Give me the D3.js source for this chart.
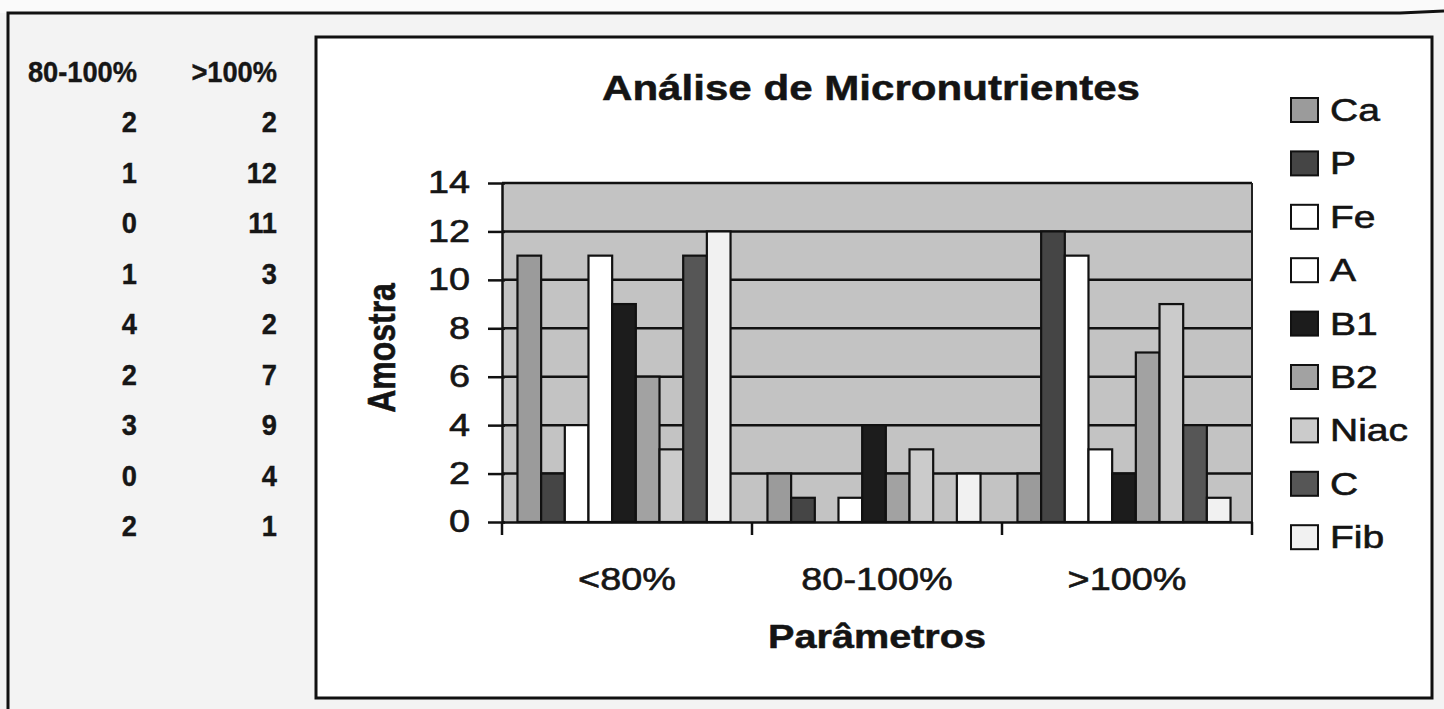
<!DOCTYPE html>
<html>
<head>
<meta charset="utf-8">
<script src="https://cdn.jsdelivr.net/npm/d3@7"></script>
<style>
  body { margin: 0; background: #f3f3f3; }
  svg { display: block; font-family: Arial, "Liberation Sans", sans-serif; }
</style>
</head>
<body>
<svg id="chart" width="1444" height="709"></svg>
<script>
(function(){
    'use strict';

    // valores
    var categories = ["<80%", "80-100%", ">100%"];
    var series = ["Ca", "P", "Fe", "A", "B1", "B2", "Niac", "C", "Fib"];
    var below80 = [11, 2, 4, 11, 9, 6, 3, 11, 12];
    var mid80to100 = [2, 1, 0, 1, 4, 2, 3, 0, 2];
    var above100 = [2, 12, 11, 3, 2, 7, 9, 4, 1];
    var yTicks = [0, 2, 4, 6, 8, 10, 12, 14];
    var colors = ["#9b9b9b", "#454545", "#ffffff", "#ffffff", "#1c1c1c", "#a2a2a2", "#cbcbcb", "#565656", "#f1f1f1"];

    var groups = [below80, mid80to100, above100];

    var svg = d3.select("#chart");

    // stretch text horizontally (photo is a bit wide)
    function stretch(sel, sx) {
        sel.each(function() {
            var t = d3.select(this);
            var x = +t.attr("x") || 0, y = +t.attr("y") || 0;
            t.attr("x", 0).attr("y", 0)
                .attr("transform", "translate(" + x + "," + y + ") scale(" + sx + ",1)");
        });
    }

    // outer page frame
    svg.append("rect").attr("x", 0).attr("y", 0).attr("width", 1444).attr("height", 13).style("fill", "#fafafa");
    svg.append("path")
        .attr("d", "M8,709 L8,13 L1400,13 L1444,11")
        .style("fill", "none").style("stroke", "#111").style("stroke-width", 3);

    // left table
    var table = svg.append("g").style("font-weight", "bold").style("font-size", "29px").style("fill", "#161616")
        .style("stroke", "#161616").style("stroke-width", 0.4);
    var heads = table.selectAll(".head").data([categories[1], categories[2]]).enter().append("text")
        .attr("class", "head")
        .attr("x", function(d, i) { return i === 0 ? 137 : 277; })
        .attr("y", 82)
        .style("text-anchor", "end")
        .text(function(d) { return d; });
    stretch(heads, 0.94);
    var col1 = table.selectAll(".c1").data(mid80to100).enter().append("text")
        .attr("class", "c1")
        .attr("x", 137)
        .attr("y", function(d, i) { return 132 + i * 50.5; })
        .style("text-anchor", "end")
        .text(function(d) { return d; });
    stretch(col1, 0.94);
    var col2 = table.selectAll(".c2").data(above100).enter().append("text")
        .attr("class", "c2")
        .attr("x", 277)
        .attr("y", function(d, i) { return 132 + i * 50.5; })
        .style("text-anchor", "end")
        .text(function(d) { return d; });
    stretch(col2, 0.94);

    // chart box
    svg.append("rect")
        .attr("x", 316).attr("y", 37).attr("width", 1116).attr("height", 661)
        .style("fill", "#ffffff").style("stroke", "#111").style("stroke-width", 3);

    var margin = { top: 183, left: 502 },
        width = 750,
        height = 339;

    var x0 = d3.scaleBand().domain(categories).range([0, width]).paddingInner(0).paddingOuter(0);
    var x1 = d3.scaleBand().domain(series).range([-3, x0.bandwidth() - 3]).paddingInner(0).paddingOuter(0.78);
    var y = d3.scaleLinear().domain([0, 14]).range([height, 0]);

    var g = svg.append("g").attr("transform", "translate(" + margin.left + "," + margin.top + ")");

    g.append("rect").attr("width", width).attr("height", height).style("fill", "#c3c3c3");

    g.selectAll(".grid")
        .data(yTicks.slice(1))
        .enter().append("line")
        .attr("class", "grid")
        .attr("x1", 0).attr("x2", width)
        .attr("y1", function(d) { return y(d); })
        .attr("y2", function(d) { return y(d); })
        .style("stroke", "#111").style("stroke-width", 2.5);

    g.append("line").attr("x1", width).attr("x2", width).attr("y1", 0).attr("y2", height)
        .style("stroke", "#222").style("stroke-width", 2);

    var groupSel = g.selectAll(".grp")
        .data(groups)
        .enter().append("g")
        .attr("class", "grp")
        .attr("transform", function(d, i) { return "translate(" + x0(categories[i]) + ",0)"; });

    groupSel.selectAll("rect")
        .data(function(d) { return d.map(function(v, j) { return { key: series[j], value: v, idx: j }; }); })
        .enter().append("rect")
        .filter(function(d) { return d.value > 0; })
        .attr("x", function(d) { return x1(d.key); })
        .attr("y", function(d) { return y(d.value); })
        .attr("width", x1.bandwidth())
        .attr("height", function(d) { return y(0) - y(d.value); })
        .style("fill", function(d) { return colors[d.idx]; })
        .style("stroke", "#111")
        .style("stroke-width", 2.2);

    // y axis
    var yAxis = g.append("g")
        .call(d3.axisLeft(y).tickValues(yTicks).tickSize(14).tickSizeOuter(0).tickPadding(18));
    yAxis.select(".domain").style("stroke", "#111").style("stroke-width", 2.5);
    yAxis.selectAll(".tick line").style("stroke", "#111").style("stroke-width", 2.5).attr("x2", -14).attr("x1", 3);
    yAxis.selectAll(".tick text").style("font-size", "31px").style("fill", "#161616")
        .style("stroke", "#161616").style("stroke-width", 0.6)
        .style("font-family", "Arial, 'Liberation Sans', sans-serif");
    stretch(yAxis.selectAll(".tick text"), 1.22);

    // x axis
    var xAxis = g.append("g")
        .attr("transform", "translate(0," + height + ")")
        .call(d3.axisBottom(x0).tickSize(0).tickPadding(46));
    xAxis.select(".domain").style("stroke", "#111").style("stroke-width", 2.5);
    xAxis.selectAll(".tick text").style("font-size", "31px").style("fill", "#161616")
        .style("stroke", "#161616").style("stroke-width", 0.6)
        .style("font-family", "Arial, 'Liberation Sans', sans-serif");
    stretch(xAxis.selectAll(".tick text"), 1.22);

    var bounds = categories.map(function(c) { return x0(c); }).concat([width]);
    xAxis.selectAll(".bound")
        .data(bounds)
        .enter().append("line")
        .attr("class", "bound")
        .attr("x1", function(d) { return d; }).attr("x2", function(d) { return d; })
        .attr("y1", 0).attr("y2", 13)
        .style("stroke", "#111").style("stroke-width", 2.5);

    // title and axis titles
    var title = svg.append("text")
        .attr("x", 871).attr("y", 100)
        .style("text-anchor", "middle").style("font-weight", "bold").style("font-size", "36px").style("fill", "#141414")
        .style("stroke", "#141414").style("stroke-width", 0.5)
        .text("Análise de Micronutrientes");
    stretch(title, 1.17);

    svg.append("text")
        .attr("transform", "translate(395,348) rotate(-90) scale(1,1.2)")
        .style("text-anchor", "middle").style("font-weight", "bold").style("font-size", "32px").style("fill", "#141414")
        .style("stroke", "#141414").style("stroke-width", 0.5)
        .text("Amostra");

    var xTitle = svg.append("text")
        .attr("x", 877).attr("y", 648)
        .style("text-anchor", "middle").style("font-weight", "bold").style("font-size", "33px").style("fill", "#141414")
        .style("stroke", "#141414").style("stroke-width", 0.5)
        .text("Parâmetros");
    stretch(xTitle, 1.2);

    // legend
    var legend = svg.selectAll(".legend")
        .data(series)
        .enter().append("g")
        .attr("class", "legend")
        .attr("transform", function(d, i) { return "translate(1291," + (110 + i * 53.4) + ")"; });

    legend.append("rect")
        .attr("x", 0).attr("y", -12)
        .attr("width", 27).attr("height", 24)
        .style("fill", function(d, i) { return colors[i]; })
        .style("stroke", "#111").style("stroke-width", 2);

    var legendText = legend.append("text")
        .attr("x", 39).attr("y", 11)
        .style("font-size", "32px").style("fill", "#141414")
        .style("stroke", "#141414").style("stroke-width", 0.6)
        .text(function(d) { return d; });
    stretch(legendText, 1.22);
})();
</script>
</body>
</html>
